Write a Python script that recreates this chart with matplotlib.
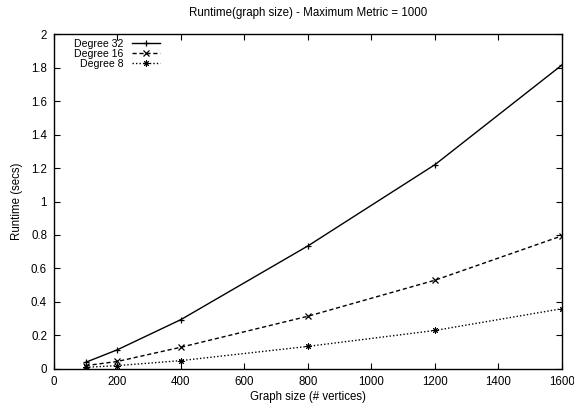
"""Runtime vs graph size, gnuplot-style line chart."""

import matplotlib

matplotlib.use("Agg")
import matplotlib.pyplot as plt

plt.rcParams["font.family"] = ["Liberation Sans", "DejaVu Sans"]

sizes = [100, 200, 400, 800, 1200, 1600]
deg32 = [0.04, 0.115, 0.295, 0.735, 1.22, 1.815]
deg16 = [0.02, 0.045, 0.13, 0.315, 0.53, 0.795]
deg8 = [0.01, 0.02, 0.05, 0.135, 0.23, 0.36]

x_ticks = [0, 200, 400, 600, 800, 1000, 1200, 1400, 1600]
y_ticks = [0, 0.2, 0.4, 0.6, 0.8, 1, 1.2, 1.4, 1.6, 1.8, 2]
y_labels = ["0", "0.2", "0.4", "0.6", "0.8", "1", "1.2", "1.4", "1.6", "1.8", "2"]

FS = 8.3

fig = plt.figure(figsize=(5.74, 4.03), dpi=100)
ax = fig.add_axes([0.094, 0.0844, 0.885, 0.8312])

ax.plot(sizes, deg32, color="black", lw=1, linestyle="-", marker="+", ms=5,
        mew=0.9, label="Degree 32")
ax.plot(sizes, deg16, color="black", lw=1, linestyle=(0, (3, 2)), marker="x",
        ms=4, mew=0.9, label="Degree 16")
ax.plot(sizes, deg8, color="black", lw=1, linestyle=(0, (1, 1.5)),
        marker=(8, 2, 0), ms=4.5, mew=0.7, label="Degree 8")

ax.set_xlim(0, 1600)
ax.set_ylim(0, 2)
ax.set_xticks(x_ticks)
ax.set_yticks(y_ticks)
ax.set_yticklabels(y_labels)
ax.tick_params(direction="in", top=True, right=True, length=4, width=0.8,
               labelsize=FS, pad=5, colors="black")
for side in ax.spines.values():
    side.set_linewidth(1)

ax.set_xlabel("Graph size (# vertices)", fontsize=FS, labelpad=2)
ax.set_ylabel("Runtime (secs)", fontsize=FS, labelpad=6)
ax.set_title("Runtime(graph size) - Maximum Metric = 1000", fontsize=FS, pad=13)

leg = ax.legend(loc="upper right", frameon=False, markerfirst=False,
                fontsize=7.6, handlelength=2.7, handletextpad=0.8,
                labelspacing=0.0, borderpad=0.0, borderaxespad=0.0,
                bbox_to_anchor=(0.209, 0.985))
for t in leg.get_texts():
    t.set_ha("right")
leg._legend_box.align = "right"

fig.savefig("out.png", dpi=100)
